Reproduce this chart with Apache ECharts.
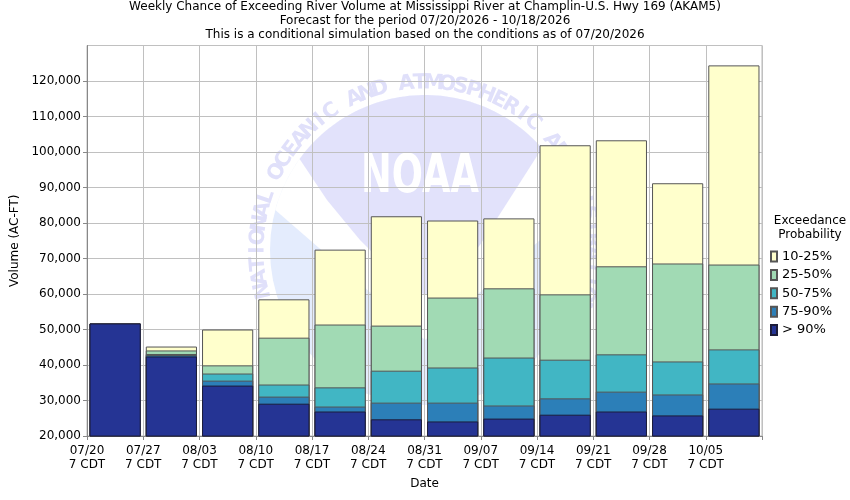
<!DOCTYPE html>
<html><head><meta charset="utf-8">
<script src="https://cdn.jsdelivr.net/npm/echarts@6/dist/echarts.min.js"></script>
<style>html,body{margin:0;padding:0;background:#fff}#c{width:850px;height:500px}</style>
</head><body><div id="c"></div>
<script>
// Week categories (bars) and tick labels (week boundaries)
const weeks = ['07/20','07/27','08/03','08/10','08/17','08/24','08/31','09/07','09/14','09/21','09/28','10/05'];
const tickLabels = ['07/20','07/27','08/03','08/10','08/17','08/24','08/31','09/07','09/14','09/21','09/28','10/05',''];
// Volume (AC-FT) at each exceedance level
const p10 = [51700, 45200, 50000, 58500, 72500, 81900, 80700, 81300, 101900, 103300, 91200, 124400];
const p25 = [51700, 44100, 39900, 47700, 51400, 51100, 59000, 61600, 59900, 67800, 68600, 68300];
const p50 = [51700, 43100, 37600, 34500, 33700, 38400, 39300, 42100, 41500, 43000, 41000, 44400];
const p75 = [51700, 42800, 35600, 31100, 28300, 29400, 29400, 28600, 30600, 32500, 31700, 34800];
const p90 = [51700, 42400, 34200, 29100, 26900, 24700, 24100, 24900, 26000, 26900, 25800, 27700];
const seriesNames = ['10-25%','25-50%','50-75%','75-90%','> 90%'];
const seriesData = [p10, p25, p50, p75, p90];
const colors = ['#ffffcc','#a1dab4','#41b6c4','#2c7fb8','#253494'];

// NOAA watermark (decoration)
const cx = 425, cy = 250, rIn = 155;
function arcPts(a0, a1, r, n) {
  const pts = [];
  for (let i = 0; i <= n; i++) {
    const a = (a0 + (a1 - a0) * i / n) * Math.PI / 180;
    pts.push([cx + r * Math.cos(a), cy - r * Math.sin(a)]);
  }
  return pts;
}
const wm = [];
wm.push({type:'circle', silent:true, z:-10, shape:{cx:cx, cy:cy, r:rIn}, style:{fill:'#e4ecfd'}});
wm.push({type:'polygon', silent:true, z:-9, shape:{points: arcPts(165, 15, rIn, 60).concat([[425, 340]])}, style:{fill:'#ffffff'}});
wm.push({type:'polygon', silent:true, z:-8, shape:{points: arcPts(144, 41, rIn, 60).concat([[507,203],[480,245],[450,280],[425,295],[400,280],[360,240],[327,200]])}, style:{fill:'#e2e2fb'}});
wm.push({type:'text', silent:true, z:-7, x:420, y:178, scaleX:0.68, style:{text:'NOAA', fill:'#ffffff', font:'bold 54px "DejaVu Sans"', align:'center', verticalAlign:'middle', textAlign:'center', textVerticalAlign:'middle'}});
const ring = 'NATIONAL OCEANIC AND ATMOSPHERIC ADMINISTRATION';
for (let i = 0; i < ring.length; i++) {
  const deg = 194 - i * 4.65;
  const a = deg * Math.PI / 180;
  const r = 167;
  wm.push({type:'text', silent:true, z:-7, x: cx + r * Math.cos(a), y: cy - r * Math.sin(a), rotation: (deg - 90) * Math.PI / 180,
    style:{text: ring[i], fill:'#e0e0fa', font:'bold 21px "DejaVu Sans"', align:'center', verticalAlign:'middle', textAlign:'center', textVerticalAlign:'middle'}});
}
wm.push({type:'text', silent:true, x:810, y:214, style:{text:'Exceedance\nProbability', fill:'#000', font:'12px "DejaVu Sans"', lineHeight:14, align:'center', textAlign:'center', verticalAlign:'top'}});

const chart = echarts.init(document.getElementById('c'));
chart.setOption({
  animation: false,
  backgroundColor: '#ffffff',
  textStyle: {fontFamily: 'DejaVu Sans'},
  title: {
    text: 'Weekly Chance of Exceeding River Volume at Mississippi River at Champlin-U.S. Hwy 169 (AKAM5)\nForecast for the period 07/20/2026 - 10/18/2026\nThis is a conditional simulation based on the conditions as of 07/20/2026',
    left: 'center', top: 0, padding: 0,
    textStyle: {fontSize: 12, fontWeight: 'normal', color: '#000', lineHeight: 14, fontFamily: 'DejaVu Sans', align: 'center'}
  },
  graphic: wm,
  legend: {
    data: seriesNames, orient: 'vertical', left: 765, top: 245,
    itemWidth: 6, itemHeight: 10, itemGap: 5.4, icon: 'rect',
    textStyle: {fontSize: 13, color: '#000', lineHeight: 12, fontFamily: 'DejaVu Sans'}
  },
  grid: {left: 87, right: 88, top: 45.5, bottom: 64, show: true, borderColor: '#b8b8b8', borderWidth: 1},
  xAxis: [
    {type: 'category', data: weeks, boundaryGap: true, axisLine: {show: false}, axisTick: {show: false}, axisLabel: {show: false}, splitLine: {show: false}},
    {type: 'category', data: tickLabels, boundaryGap: false, position: 'bottom',
      name: 'Date', nameLocation: 'middle', nameGap: 42, nameTextStyle: {fontSize: 12, color: '#000'},
      axisLine: {show: true, lineStyle: {color: '#888'}},
      axisTick: {show: true, length: 4, interval: 0, lineStyle: {color: '#888'}},
      axisLabel: {interval: 0, margin: 8, fontSize: 12, color: '#000', lineHeight: 14, formatter: v => v ? v + '\n7 CDT' : ''},
      splitLine: {show: true, interval: 0, lineStyle: {color: '#c0c0c0', width: 1}}}
  ],
  yAxis: {
    type: 'value', min: 20000, max: 130000, interval: 10000,
    name: 'Volume (AC-FT)', nameLocation: 'middle', nameGap: 62, nameTextStyle: {fontSize: 12, color: '#000'},
    axisLine: {show: true, lineStyle: {color: '#888'}},
    axisTick: {show: true, length: 4, lineStyle: {color: '#888'}},
    axisLabel: {margin: 6, fontSize: 12, color: '#000', showMaxLabel: false, formatter: v => v.toLocaleString('en-US')},
    splitLine: {show: true, lineStyle: {color: '#c0c0c0', width: 1}}
  },
  series: seriesNames.map((n, i) => ({
    name: n, type: 'bar', xAxisIndex: 0, data: seriesData[i],
    barWidth: '91%', barGap: '-100%',
    itemStyle: {color: colors[i], borderColor: i === 4 ? '#1c1c3a' : '#555555', borderWidth: 1}
  }))
});
</script>
</body></html>
